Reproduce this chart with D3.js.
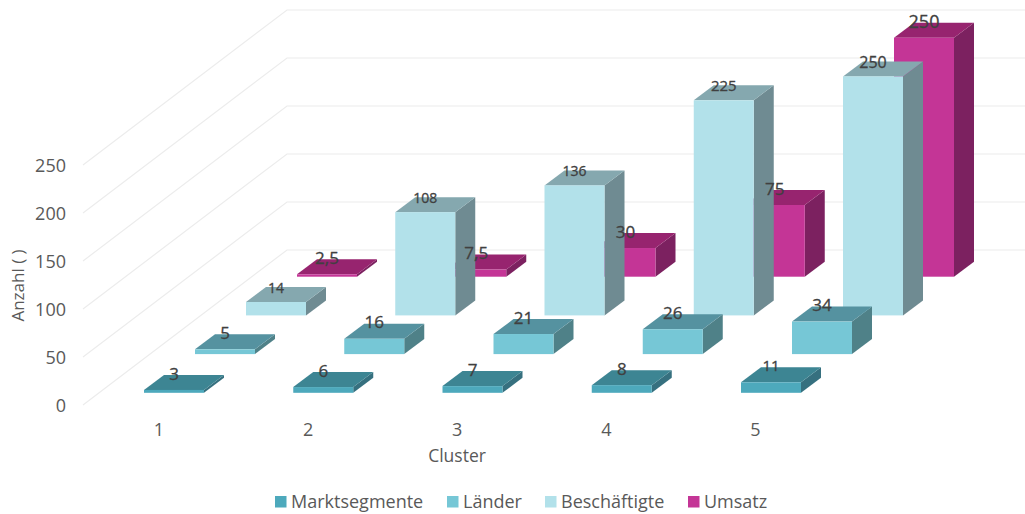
<!DOCTYPE html>
<html>
<head>
<meta charset="utf-8">
<script src="https://cdn.jsdelivr.net/npm/d3@7/dist/d3.min.js"></script>
<style>
html,body{margin:0;padding:0;background:#fff;overflow:hidden}
svg{display:block;font-family:"Open Sans",sans-serif}
</style>
</head>
<body>
<svg id="chart" width="1025" height="514"></svg>
<script>
const clusters = ["1", "2", "3", "4", "5"];
const seriesNames = ["Marktsegmente", "Länder", "Beschäftigte", "Umsatz"];
const marktsegmente = [3, 6, 7, 8, 11];
const laender = [5, 16, 21, 26, 34];
const beschaeftigte = [14, 108, 136, 225, 250];
const umsatz = [2.5, 7.5, 30, 75, 250];
const yTicks = [0, 50, 100, 150, 200, 250];
const seriesValues = [marktsegmente, laender, beschaeftigte, umsatz];
const frontColors = ["#4da9bc", "#76c7d6", "#b2e1ea", "#c43596"];
const topColors = ["#3d8593", "#5592a0", "#85a8af", "#97246f"];
const sideColors = ["#36707f", "#4f8188", "#6f8b92", "#7c2160"];
const labelSizes = [
  [17, 17, 17, 17, 15],
  [17, 17, 17, 17, 17],
  [14, 14, 14, 15, 16],
  [17, 17, 17, 17, 18]
];
const labelOffsets = [-16.5, -16.5, -14.5, -16.5];

const svg = d3.select("#chart");
const barW = 60, depthX = 20, depthY = 15;
const fmt = v => String(v).replace(".", ",");

const yFront = d3.scaleLinear().domain([0, 250]).range([405, 165]);
const yBack = d3.scaleLinear().domain([0, 250]).range([250, 10]);
const height = d3.scaleLinear().domain([0, 250]).range([0, 239]);
const xCluster = d3.scalePoint().domain(clusters).range([144, 741]);
const xDepth = d3.scalePoint().domain(seriesNames).range([0, 153]);
const yBase = d3.scalePoint().domain(seriesNames).range([392.8, 276.7]);

// floor / wall gridlines
svg.append("g").selectAll("path").data(yTicks).join("path")
  .attr("d", v => d3.line()([[83, yFront(v)], [287, yBack(v)], [1025, yBack(v)]]))
  .attr("fill", "none").attr("stroke", "#ececec").attr("stroke-width", 1.2);

// bars, back row first
const rows = svg.append("g");
[3, 2, 1, 0].forEach(s => {
  const name = seriesNames[s];
  const g = rows.append("g");
  const bars = clusters.map((c, i) => {
    const x = xCluster(c) + xDepth(name);
    const b = yBase(name);
    return { x, b, t: b - height(seriesValues[s][i]) };
  });
  g.selectAll("path.side").data(bars).join("path").attr("class", "side")
    .attr("fill", sideColors[s])
    .attr("d", d => d3.line()([[d.x + barW, d.t], [d.x + barW + depthX, d.t - depthY], [d.x + barW + depthX, d.b - depthY], [d.x + barW, d.b]]) + "Z");
  g.selectAll("path.top").data(bars).join("path").attr("class", "top")
    .attr("fill", topColors[s])
    .attr("d", d => d3.line()([[d.x, d.t], [d.x + depthX, d.t - depthY], [d.x + barW + depthX, d.t - depthY], [d.x + barW, d.t]]) + "Z");
  g.selectAll("rect").data(bars).join("rect")
    .attr("fill", frontColors[s])
    .attr("x", d => d.x).attr("y", d => d.t)
    .attr("width", barW).attr("height", d => d.b - d.t);
});

// value labels on top of all bars
const labels = svg.append("g");
seriesNames.forEach((name, s) => {
  labels.selectAll(null).data(seriesValues[s]).join("text")
    .attr("x", (v, i) => xCluster(clusters[i]) + xDepth(name) + barW / 2)
    .attr("y", v => yBase(name) - height(v) + labelOffsets[s])
    .attr("dy", "0.36em")
    .attr("text-anchor", "middle")
    .attr("font-size", (v, i) => labelSizes[s][i])
    .attr("fill", "#404040")
    .attr("stroke", "#404040").attr("stroke-width", 0.3)
    .text(fmt);
});

// value axis
const yAxis = svg.append("g").attr("transform", "translate(66,1)")
  .call(d3.axisLeft(yFront).tickValues(yTicks).tickSize(0).tickPadding(0));
yAxis.select(".domain").remove();
yAxis.selectAll("text").attr("font-size", 18).attr("font-family", "Open Sans").attr("fill", "#595959");

// cluster axis
const xTick = d3.scalePoint().domain(clusters).range([158.5, 755]);
const xAxis = svg.append("g").attr("transform", "translate(0,423)")
  .call(d3.axisBottom(xTick).tickSize(0).tickPadding(0));
xAxis.select(".domain").remove();
xAxis.selectAll("text").attr("font-size", 18).attr("font-family", "Open Sans").attr("fill", "#595959");

// axis titles
svg.append("text").attr("transform", "translate(18,285.5) rotate(-90)")
  .attr("dy", "0.36em").attr("text-anchor", "middle")
  .attr("font-size", 17).attr("fill", "#595959").text("Anzahl ( )");
svg.append("text").attr("x", 457).attr("y", 456)
  .attr("dy", "0.36em").attr("text-anchor", "middle")
  .attr("font-size", 17.5).attr("fill", "#595959").text("Cluster");

// legend
const legendX = d3.scaleOrdinal().domain(seriesNames).range([275, 447, 545, 688]);
const legend = svg.append("g").selectAll("g").data(seriesNames).join("g")
  .attr("transform", d => `translate(${legendX(d)},0)`);
legend.append("rect").attr("x", 0).attr("y", 496).attr("width", 11.5).attr("height", 11.5)
  .attr("fill", (d, i) => frontColors[i]);
legend.append("text").attr("x", 16).attr("y", 501.5).attr("dy", "0.36em")
  .attr("font-size", 18).attr("fill", "#595959").text(d => d);
</script>
</body>
</html>
